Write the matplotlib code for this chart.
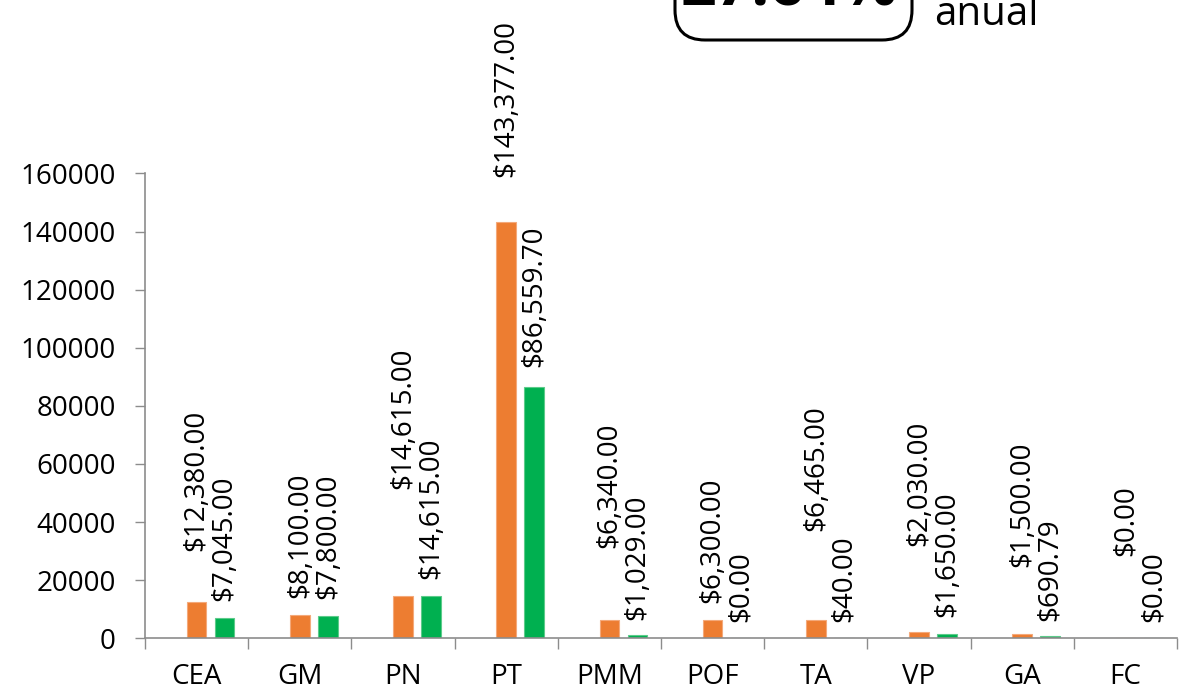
import matplotlib
matplotlib.use("Agg")
import matplotlib.pyplot as plt
import numpy as np
from matplotlib.patches import FancyBboxPatch
from matplotlib.ticker import FixedLocator, NullFormatter

categories = ['CEA', 'GM', 'PN', 'PT', 'PMM', 'POF', 'TA', 'VP', 'GA', 'FC']
hidden = [0, 0, 0, 0, 0, 0, 0, 0, 0, 0]
orange_vals = [12380.00, 8100.00, 14615.00, 143377.00, 6340.00, 6300.00, 6465.00, 2030.00, 1500.00, 0.00]
green_vals = [7045.00, 7800.00, 14615.00, 86559.70, 1029.00, 0.00, 40.00, 1650.00, 690.79, 0.00]
y_ticks = [0, 20000, 40000, 60000, 80000, 100000, 120000, 140000, 160000]

# label gaps above the bar tops (points), orange ones were moved by hand in the source
orange_gap = [37, 12, 77, 32, 52, 12, 64, 62, 48, 59]
green_gap = [12, 12, 12, 14, 11, 12, 12, 12, 11, 12]

ORANGE = '#ED7D31'
GREEN = '#00B050'
AXIS = '#8C8C8C'

plt.rcParams['font.family'] = ['Open Sans', 'DejaVu Sans']

fig = plt.figure(figsize=(11.82, 6.98), dpi=100)
ax = fig.add_axes([145 / 1182, 1 - 638.3 / 698, (1177 - 145) / 1182, (638.3 - 173.5) / 698])

x = np.arange(len(categories))
slot = 0.271
width = 0.19
ax.bar(x - slot, hidden, width, color='none')
ax.bar(x, orange_vals, width, color=ORANGE, edgecolor='#F4A97A', linewidth=0.8)
ax.bar(x + slot, green_vals, width, color=GREEN, edgecolor='#5CCB8A', linewidth=0.8)

for i in range(len(categories)):
    ax.annotate(f'${orange_vals[i]:,.2f}', (x[i], orange_vals[i]), xytext=(0, orange_gap[i]),
                textcoords='offset points', rotation=90, ha='center', va='bottom',
                fontsize=20, annotation_clip=False)
    ax.annotate(f'${green_vals[i]:,.2f}', (x[i] + slot, green_vals[i]), xytext=(0, green_gap[i]),
                textcoords='offset points', rotation=90, ha='center', va='bottom',
                fontsize=20, annotation_clip=False)

ax.set_xlim(-0.5, len(categories) - 0.5)
ax.set_ylim(0, 160000)
ax.set_yticks(y_ticks)
ax.set_yticklabels([str(t) for t in y_ticks])
ax.tick_params(axis='y', direction='out', length=7, width=1, color=AXIS, labelsize=20, pad=14)

ax.set_xticks(x)
ax.set_xticklabels(categories)
ax.tick_params(axis='x', which='major', length=0, labelsize=20, pad=18)
ax.xaxis.set_minor_locator(FixedLocator(np.arange(-0.5, len(categories), 1.0)))
ax.xaxis.set_minor_formatter(NullFormatter())
ax.tick_params(axis='x', which='minor', direction='out', length=8, width=1, color=AXIS)

for s in ['top', 'right']:
    ax.spines[s].set_visible(False)
for s in ['left', 'bottom']:
    ax.spines[s].set_color(AXIS)
    ax.spines[s].set_linewidth(1.2)

# rounded box with the growth rate, cut by the top edge of the image
box = FancyBboxPatch((675, 698 - 40), 912 - 675, 120,
                     boxstyle='round,pad=0,rounding_size=30',
                     transform=None, facecolor='white', edgecolor='black', linewidth=2.2,
                     clip_on=False)
fig.patches.append(box)
fig.text(681 / 1182, 678 / 698, '27.64%', fontsize=45, fontweight='bold', ha='left', va='bottom')
fig.text(934 / 1182, 673 / 698, 'anual', fontsize=29, ha='left', va='baseline')

fig.savefig('out.png', dpi=100)
